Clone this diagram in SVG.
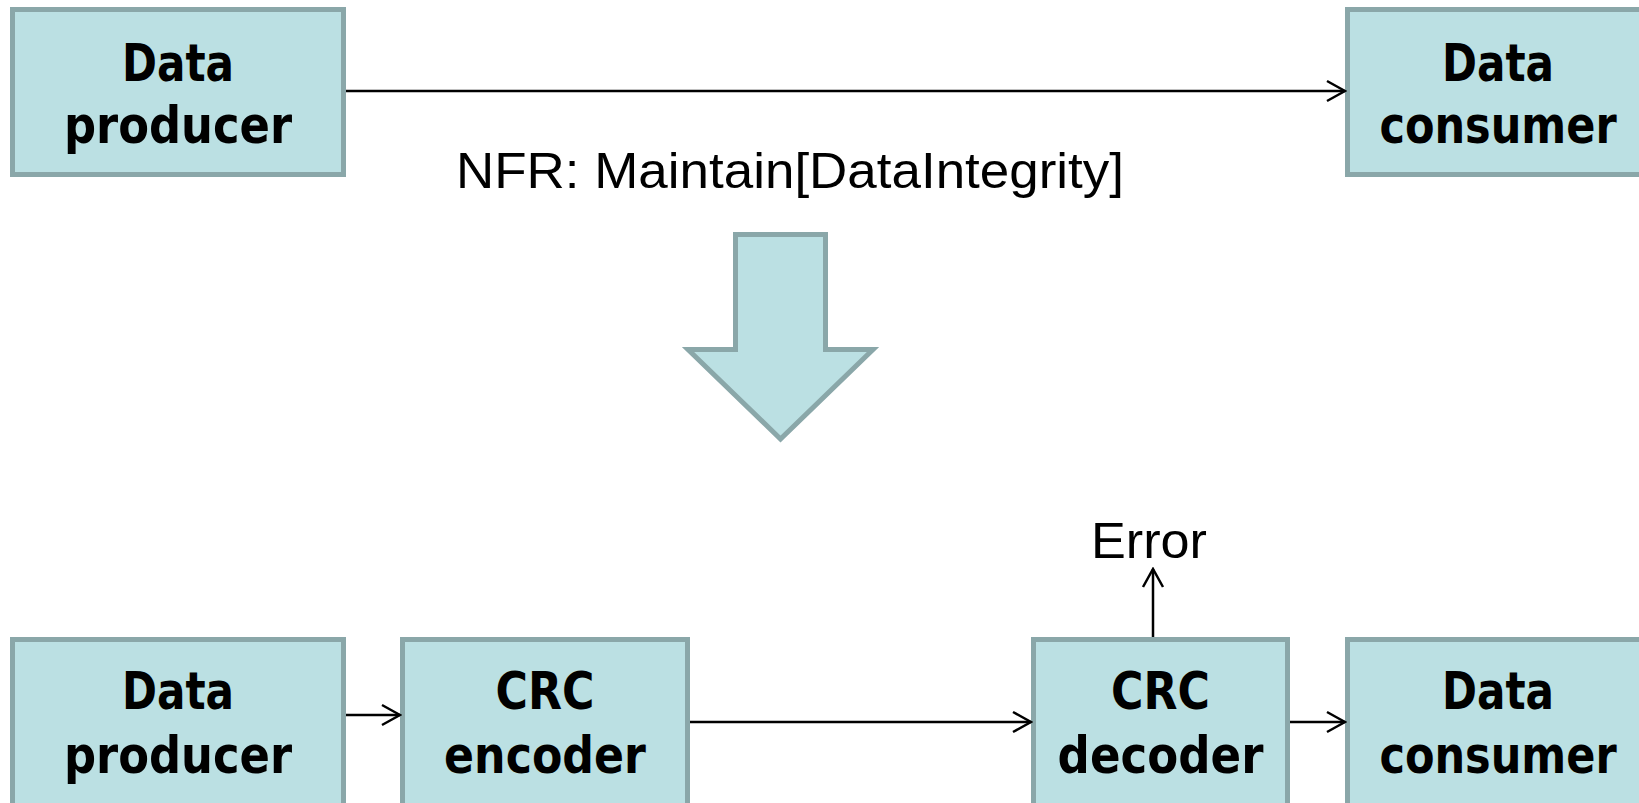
<svg xmlns="http://www.w3.org/2000/svg" width="1639" height="803" viewBox="0 0 1639 803">
<style>
.box{fill:#bbe0e3;stroke:#8aa7a9;stroke-width:5}
.lbl{font-family:"DejaVu Sans","Liberation Sans",sans-serif;font-weight:bold;font-size:52px;fill:#000;text-anchor:middle}
.plain{font-family:"Liberation Sans",Arial,sans-serif;font-size:50px;fill:#000}
.conn{fill:none;stroke:#000;stroke-width:2.5}
</style>
<defs>
<marker id="arr" viewBox="0 0 22 24" refX="20" refY="12" markerWidth="22" markerHeight="24" markerUnits="userSpaceOnUse" orient="auto">
<path d="M2,2 L20,12 L2,22" fill="none" stroke="#000" stroke-width="2.5"/>
</marker>
</defs>
<rect width="1639" height="803" fill="#fff"/>
<g id="top-producer">
<rect class="box" x="12.5" y="9.5" width="331" height="165"/>
<text class="lbl" transform="translate(178,81) scale(0.81,1)">Data</text>
<text class="lbl" transform="translate(178,143) scale(0.862,1)">producer</text>
</g>
<g id="top-consumer">
<rect class="box" x="1347.5" y="9.5" width="296" height="165"/>
<text class="lbl" transform="translate(1498,81) scale(0.81,1)">Data</text>
<text class="lbl" transform="translate(1498,143) scale(0.828,1)">consumer</text>
</g>
<g id="nfr-label">
<text class="plain" x="456" y="188" textLength="668" lengthAdjust="spacingAndGlyphs">NFR: Maintain[DataIntegrity]</text>
</g>
<g id="down-arrow">
<polygon class="box" points="735.5,234.5 825.5,234.5 825.5,349.5 873,349.5 780.5,439 688,349.5 735.5,349.5"/>
</g>
<g id="bottom-producer">
<rect class="box" x="12.5" y="639.5" width="331" height="170"/>
<text class="lbl" transform="translate(178,709) scale(0.81,1)">Data</text>
<text class="lbl" transform="translate(178,773) scale(0.862,1)">producer</text>
</g>
<g id="crc-encoder">
<rect class="box" x="402.5" y="639.5" width="285" height="170"/>
<text class="lbl" transform="translate(545,709) scale(0.85,1)">CRC</text>
<text class="lbl" transform="translate(545,773) scale(0.852,1)">encoder</text>
</g>
<g id="crc-decoder">
<rect class="box" x="1033.5" y="639.5" width="254" height="170"/>
<text class="lbl" transform="translate(1160.5,709) scale(0.85,1)">CRC</text>
<text class="lbl" transform="translate(1160.5,773) scale(0.868,1)">decoder</text>
</g>
<g id="bottom-consumer">
<rect class="box" x="1347.5" y="639.5" width="296" height="170"/>
<text class="lbl" transform="translate(1498,709) scale(0.81,1)">Data</text>
<text class="lbl" transform="translate(1498,773) scale(0.828,1)">consumer</text>
</g>
<g id="error-label">
<text class="plain" x="1091" y="558" textLength="116" lengthAdjust="spacingAndGlyphs">Error</text>
</g>
<g id="connectors">
<line class="conn" x1="346" y1="91" x2="1345" y2="91" marker-end="url(#arr)"/>
<line class="conn" x1="346" y1="715" x2="400" y2="715" marker-end="url(#arr)"/>
<line class="conn" x1="690" y1="722" x2="1031" y2="722" marker-end="url(#arr)"/>
<line class="conn" x1="1290" y1="722" x2="1345" y2="722" marker-end="url(#arr)"/>
<line class="conn" x1="1153" y1="637" x2="1153" y2="569" marker-end="url(#arr)"/>
</g>
</svg>
